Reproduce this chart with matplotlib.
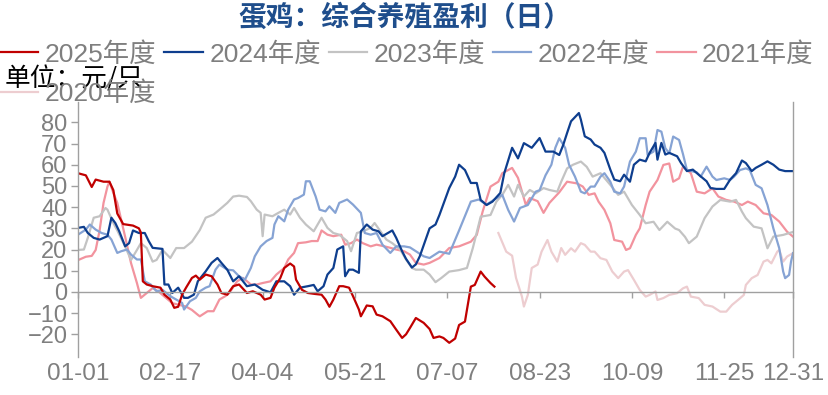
import matplotlib
matplotlib.use("Agg")
import matplotlib.pyplot as plt

plt.rcParams['font.family'] = ['Liberation Sans', 'Noto Sans CJK SC', 'DejaVu Sans']

# x axis: day of year (01-01 = 0)
tick_days = [0, 47, 94, 141, 188, 235, 282, 329, 364]
tick_labels = ['01-01', '02-17', '04-04', '05-21', '07-07', '08-23', '10-09', '11-25', '12-31']
y_ticks = [-20, -10, 0, 10, 20, 30, 40, 50, 60, 70, 80]

d2025 = [0, 4, 7, 9, 13, 16, 18, 20, 23, 28,
         31, 32, 33, 35, 38, 42, 44, 47, 49, 51,
         53, 55, 58, 60, 62, 65, 68, 71, 73, 76,
         79, 82, 86, 89, 93, 95, 98, 100, 103, 105,
         108, 110, 111, 114, 117, 121, 124, 126, 128, 130,
         133, 135, 138, 140, 143, 144, 147, 150, 152, 155,
         159, 162, 165, 167, 169, 172, 176, 179, 181, 184,
         186, 189, 192, 194, 197, 200, 202, 205, 207, 210,
         212]
v2025 = [56, 55, 49.5, 53, 52, 52, 48, 37, 32, 31.3,
         30, 28, 5, 3.5, 2.7, 2, -1.3, -3.6, -7.5, -7,
         -1.3, 2, 6.6, 7.7, 5.8, 8.2, 7.4, 3.5, -0.5, -1.3,
         2.7, 3.5, -0.5, 0.3, -1.3, -3.6, -2.8, 2, 6.6, 11.3,
         13.4, 12, 5.8, 1, -0.5, -1, -1.3, -3.6, -7, -3.6,
         2.7, 2.7, 2, -2, -8.3, -11.5, -6.4, -6.8, -10.7, -11.5,
         -13.8, -17.8, -21.7, -20, -17, -12.3, -14.6, -17.5, -21.7, -21,
         -21.7, -24, -22, -15.6, -14, 2.5, 3.3, 9.6, 7.2, 4.2,
         2.5]

d2024 = [0, 3, 5, 8, 11, 15, 17, 19, 21, 24,
         26, 28, 31, 34, 36, 38, 43, 44, 46, 48,
         51, 54, 56, 59, 61, 65, 68, 71, 73, 76,
         79, 82, 86, 90, 94, 98, 101, 105, 108, 110,
         113, 117, 120, 122, 125, 127, 130, 132, 135, 136,
         138, 140, 143, 144, 147, 150, 153, 155, 160, 162,
         165, 167, 170, 172, 174, 177, 179, 182, 184, 189,
         192, 194, 197, 200, 203, 205, 208, 211, 215, 217,
         221, 224, 227, 231, 235, 238, 242, 245, 247, 249,
         251, 255, 256, 258, 261, 263, 266, 268, 271, 273,
         276, 278, 281, 283, 286, 289, 291, 294, 295, 297,
         299, 301, 305, 307, 310, 313, 316, 320, 322, 325,
         329, 332, 335, 338, 340, 343, 345, 348, 351, 354,
         357, 360, 364]
v2024 = [30.2, 30.7, 27.8, 25.5, 24.7, 26.3, 35, 32.5, 28.6, 21.5,
         23, 29, 27.8, 27.8, 24, 20.8, 20.3, 3.5, 3.5, -0.5,
         2, -2.8, -2.8, -1.3, 5, 9.7, 13.7, 16, 13.7, 10.5,
         5, 7.4, 2.7, 3.5, 1, -0.2, 5, 5, 2.7, -1.3,
         2, 2.7, 3.3, 0.3, 2.7, 8.2, 11.3, 20, 21.5, 7.4,
         10.5, 10.5, 9, 28.6, 31.8, 29.4, 28.6, 26.3, 29, 25.5,
         19.2, 15.6, 11.5, 13, 16.8, 24.7, 30, 31.8, 36.3, 49,
         54.4, 60, 57.5, 51.4, 51.4, 43.4, 41, 42.6, 46.7, 56,
         68, 63, 70.2, 68, 72.6, 66.2, 66.2, 64.6, 69.3, 75,
         80.5, 84.4, 81.3, 73.4, 71.9, 69.5, 68, 65.6, 57.7, 53,
         52.2, 55.3, 52, 60, 62.4, 61.6, 65.6, 70.3, 62.4, 70.3,
         64.8, 65.6, 64, 60.8, 57, 57.7, 55.3, 52.2, 49, 48.6,
         48.6, 53, 56, 62, 60.8, 57, 58.5, 60, 61.6, 60,
         57.7, 57, 57]

d2023 = [0, 3, 5, 8, 11, 14, 15, 18, 20, 24,
         27, 30, 32, 35, 38, 40, 43, 47, 50, 54,
         58, 62, 65, 69, 72, 76, 79, 82, 86, 88,
         91, 93, 94, 95, 99, 102, 105, 108, 110, 113,
         116, 120, 122, 124, 127, 130, 133, 137, 139, 142,
         145, 149, 151, 154, 157, 160, 164, 167, 170, 172,
         176, 179, 182, 185, 189, 194, 198, 201, 205, 210,
         213, 216, 219, 222, 224, 227, 230, 233, 237, 240,
         244, 246, 249, 252, 256, 259, 262, 266, 271, 275,
         278, 282, 286, 289, 293, 296, 300, 304, 306, 309,
         311, 315, 319, 323, 327, 332, 335, 338, 340, 344,
         348, 351, 354, 359, 364]
v2023 = [19.8, 20, 25.5, 35, 35.7, 39.6, 38.8, 32.5, 29, 21.4,
         15.1, 19.8, 23, 20.7, 14.3, 15.1, 19.8, 16, 20.7, 20.7,
         23.7, 29.2, 35, 36.5, 38.8, 42, 45, 45.4, 44.8, 42.8,
         38.8, 37.3, 26.3, 36.5, 35.7, 37.3, 38.8, 36.5, 39.6, 35,
         31.8, 28.6, 31.8, 35, 30.2, 27.8, 27, 24, 19.2, 27.8,
         28.6, 30.2, 32.5, 28.6, 24.7, 23, 20, 15.3, 11.3, 10.5,
         10.5, 8.2, 4.6, 6.6, 9.6, 10.3, 11.3, 20.7, 35.5, 36.3,
         42.6, 45.8, 50.5, 45, 50.5, 45, 48.1, 46.5, 49, 48.1,
         47.3, 52, 58.3, 60, 61.5, 59, 54.4, 56, 50.5, 45.8,
         47.3, 41, 36.3, 32.4, 33.1, 29.2, 33.1, 29.9, 29.2, 26,
         23, 26.1, 34.8, 40.3, 43.4, 42.6, 43.4, 37.9, 34.8, 30.8,
         30, 20.6, 26.1, 26.9, 28.3]

d2022 = [0, 4, 6, 9, 12, 15, 17, 20, 22, 25,
         27, 30, 32, 34, 37, 40, 43, 47, 50, 53,
         54, 57, 60, 62, 65, 67, 70, 72, 76, 79,
         82, 85, 88, 90, 93, 96, 99, 100, 102, 105,
         107, 110, 112, 115, 116, 118, 121, 123, 126, 128,
         131, 133, 137, 140, 144, 146, 149, 152, 155, 159,
         162, 166, 169, 172, 176, 179, 184, 189, 194, 200,
         204, 208, 212, 216, 219, 222, 225, 229, 233, 235,
         238, 241, 243, 245, 248, 250, 253, 256, 258, 261,
         263, 266, 268, 271, 273, 276, 278, 281, 284, 286,
         289, 290, 293, 295, 297, 299, 301, 303, 306, 308,
         310, 315, 317, 320, 323, 325, 329, 332, 334, 337,
         340, 342, 345, 348, 351, 354, 357, 359, 360, 362,
         363, 364]
v2022 = [27, 29.4, 31.8, 29.4, 27.8, 27, 24.7, 18.4, 19.2, 20,
         17.6, 15.3, 15.3, 5, 3.5, 0.3, 1, -2, -3.6, -5.2,
         -8.3, -4.4, -2.8, 0.3, 2, 2.7, 10.5, 12.9, 10.5, 10.2,
         7.4, 5.8, 11.3, 16.8, 21.5, 24, 25.5, 31.8, 35.7, 33.3,
         38.8, 43.6, 44.3, 45.9, 52.2, 52.2, 45, 38.8, 38, 40.4,
         37.3, 42, 43.6, 41.2, 37.3, 27.8, 27, 27.8, 22.3, 18.4,
         21.5, 21.5, 21, 19.2, 16.8, 16, 19, 18, 29, 42.6,
         43.6, 41.2, 43.6, 45.8, 38.7, 33.2, 39.6, 41, 47.3, 48,
         55, 60, 68, 72.5, 68, 60, 54.4, 47.3, 46.5, 49.7,
         49.7, 54.4, 56, 52, 47.3, 46.5, 49.7, 61.5, 66.2, 72.5,
         72.5, 64.6, 66.2, 76.4, 75.6, 67.8, 65.4, 73.3, 71.7, 65,
         57.5, 56.4, 54.4, 59.1, 54.4, 52.8, 53.6, 52.8, 54.4, 57.5,
         58.3, 57.5, 50.5, 48.9, 41, 30, 20.6, 9.6, 6.5, 8,
         14.3, 18.3]

d2021 = [0, 4, 7, 9, 11, 13, 15, 16, 18, 20,
         24, 27, 30, 32, 35, 38, 41, 44, 48, 51,
         55, 58, 61, 62, 66, 69, 72, 75, 77, 81,
         84, 88, 91, 94, 98, 101, 105, 107, 110, 112,
         116, 119, 122, 124, 127, 130, 134, 136, 139, 142,
         145, 149, 152, 156, 159, 162, 166, 169, 172, 176,
         179, 184, 189, 194, 200, 203, 206, 210, 214, 216,
         221, 224, 228, 230, 234, 237, 240, 245, 249, 254,
         257, 260, 263, 265, 268, 271, 273, 277, 279, 281,
         284, 286, 289, 291, 295, 298, 301, 303, 306, 308,
         312, 315, 319, 323, 326, 330, 334, 338, 341, 345,
         349, 353, 357, 361, 364]
v2021 = [15, 16.6, 17, 19.8, 29, 42, 49.7, 52, 46.7, 42,
         26, 13.6, 4.2, -2.8, -0.5, 1.8, 0.2, -2.2, -5.3, -6,
         -6.9, -8.5, -10.8, -11.5, -9.1, -9.1, -3.6, -2, -0.5, 5,
         6.6, 3.5, 3.5, 4.2, 5, 8.2, 11.3, 15.3, 18.4, 23,
         23.4, 24, 24, 29, 27, 26.3, 27, 22.3, 23, 24.7,
         23, 21.5, 22.3, 21.5, 20.8, 20, 19.2, 17.6, 13.7, 12.9,
         13.7, 16, 20.7, 21.5, 23.7, 26.9, 37.9, 49.7, 52, 56,
         58.5, 53.8, 41, 44.3, 42.8, 37.3, 42, 47, 52, 51.2,
         49.7, 45.8, 46.5, 42.6, 38.7, 32.4, 24.5, 23.7, 19.8, 20.6,
         26.9, 30, 41, 47.3, 52.8, 59.9, 60.6, 52, 53.6, 59.1,
         56, 47.3, 46.5, 48.9, 45, 43.4, 42.6, 41, 42.6, 41,
         37.1, 36.3, 33.2, 28.4, 26.1]

d2020 = [214, 218, 221, 223, 226, 227, 229, 231, 234, 236,
         239, 241, 244, 246, 248, 251, 253, 256, 258, 261,
         263, 266, 269, 272, 275, 278, 280, 283, 286, 289,
         291, 294, 295, 298, 301, 305, 308, 310, 312, 316,
         319, 323, 327, 330, 333, 336, 339, 340, 343, 346,
         349, 351, 353, 356, 357, 359, 361, 364]
v2020 = [27.8, 19, 17.1, 6.6, -2.2, -6.9, -1.4, 11.3, 12.9, 19,
         24.5, 19, 14.3, 20.7, 17.5, 20.6, 19, 23, 22.2, 19,
         19, 15.9, 15.1, 9.6, 6.5, 9.6, 10.3, 5.7, 0.9, -2.2,
         -1.4, 0.2, -3.8, -2.9, -1.4, -0.6, 1.7, 2.5, -2.2, -2.9,
         -6.1, -6.9, -9.3, -9.3, -6.1, -3.8, -1.4, 3.3, 6.5, 8,
         14.3, 15.1, 13.5, 19, 19.8, 14.3, 16.7, 18.3]

series = {
    '2020年度': (d2020, v2020, '#EDCDD0'),
    '2021年度': (d2021, v2021, '#F2939E'),
    '2023年度': (d2023, v2023, '#C3C3C3'),
    '2022年度': (d2022, v2022, '#86A3D4'),
    '2024年度': (d2024, v2024, '#0E3E8E'),
    '2025年度': (d2025, v2025, '#C00000'),
}

fig = plt.figure(figsize=(8.29, 3.95), dpi=100)
ax = fig.add_axes([78 / 829, 38 / 395, 715 / 829, 255 / 395])

lines = {}
for name, (d, v, c) in series.items():
    lines[name], = ax.plot(d, v, color=c, lw=1.6, label=name)

ax.set_xlim(0, 364)
ax.set_ylim(-30.7, 89.6)
ax.set_xticks(tick_days)
ax.set_xticklabels(tick_labels)
ax.set_yticks(y_ticks)

grey = '#A0A0A0'
ax.spines['top'].set_visible(False)
ax.spines['bottom'].set_position(('data', 0))
for s in ['bottom', 'left', 'right']:
    ax.spines[s].set_color(grey)
    ax.spines[s].set_linewidth(1.0)
ax.tick_params(axis='y', colors=grey, labelcolor='#7F7F7F', labelsize=17,
               length=5, width=1, pad=2.5)
ax.tick_params(axis='x', colors=grey, labelcolor='#7F7F7F', labelsize=17.5,
               length=4.5, width=1, pad=47)

# legend: 5 entries on row one, 2020 wraps to row two
order = ['2025年度', '2020年度', '2024年度', '2023年度', '2022年度', '2021年度']
fig.legend([lines[k] for k in order], order, ncol=5, loc='upper left',
           bbox_to_anchor=(0, 1 - 42 / 395), frameon=False, fontsize=19,
           labelcolor='#7F7F7F', handlelength=1.45, handletextpad=0.25,
           columnspacing=0.3, borderpad=0, borderaxespad=0, labelspacing=0.55)

fig.text(405 / 829, 1 - 18 / 395, '蛋鸡：综合养殖盈利（日）', ha='center', va='center',
         fontsize=20, color='#1F4E8C', fontweight='bold', family='Noto Sans CJK SC')
fig.text(5 / 829, 1 - 79 / 395, '单位：元/只', ha='left', va='center',
         fontsize=18.5, color='black', family='Noto Sans CJK SC')

fig.savefig('out.png', dpi=100)
